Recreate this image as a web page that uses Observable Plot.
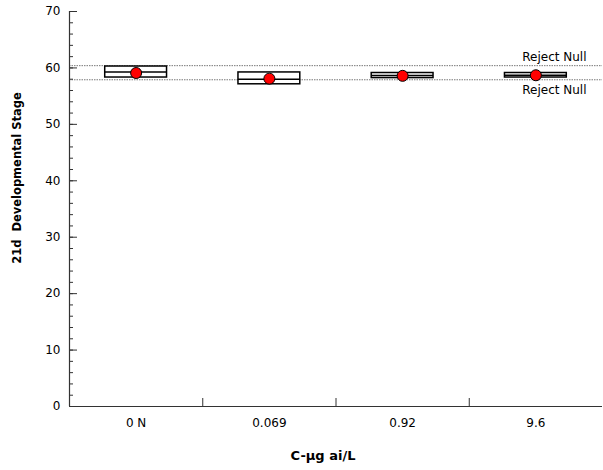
<!DOCTYPE html>
<html><head><meta charset="utf-8">
<script src="https://cdn.jsdelivr.net/npm/d3@7"></script>
<script src="https://cdn.jsdelivr.net/npm/@observablehq/plot@0.6"></script>
<style>
body{margin:0;background:#fff}
#chart svg{font-family:"DejaVu Sans",Verdana,sans-serif;display:block}
</style>
</head><body><div id="chart"></div>
<script>
const categories = ["0 N", "0.069", "0.92", "9.6"];
const q1Values = [58.3, 57.1, 58.2, 58.3];
const q3Values = [60.25, 59.2, 59.1, 59.1];
const medianValues = [59.3, 58.0, 58.65, 58.7];
const meanValues = [59.1, 58.1, 58.6, 58.7];
const rejectLines = [60.4, 57.9];
const rejectLabels = ["Reject Null", "Reject Null"];
const yTicks = [0, 10, 20, 30, 40, 50, 60, 70];
const yMinorTicks = [0, 2, 4, 6, 8, 10, 12, 14, 16, 18, 20, 22, 24, 26, 28, 30, 32, 34, 36, 38, 40, 42, 44, 46, 48, 50, 52, 54, 56, 58, 60, 62, 64, 66, 68, 70];
const xTitle = "C-µg ai/L";
const yTitle = "21d  Developmental Stage";

const rows = categories.map((c, i) => ({
  cat: c, pos: i + 0.5, q1: q1Values[i], q3: q3Values[i], med: medianValues[i], mean: meanValues[i]
}));
const boundaries = categories.map((_, i) => i).slice(1);
const halfBox = 0.232;
const refs = rejectLines.map((v, i) => ({v, label: rejectLabels[i], dy: i === 0 ? -9 : 10}));

const plot = Plot.plot({
  width: 603, height: 470,
  marginLeft: 69, marginRight: 1, marginTop: 11, marginBottom: 64,
  x: {domain: [0, categories.length], axis: null},
  y: {domain: [0, 70], axis: null},
  style: {fontSize: "12px", color: "#000"},
  marks: [
    Plot.ruleY(rejectLines, {stroke: "#777", strokeDasharray: "1.5,1", strokeWidth: 1}),
    Plot.rect(rows, {x1: d => d.pos - halfBox, x2: d => d.pos + halfBox, y1: "q1", y2: "q3", fill: "white", stroke: "black", strokeWidth: 1.5}),
    Plot.ruleY(rows, {y: "med", x1: d => d.pos - halfBox, x2: d => d.pos + halfBox, stroke: "black", strokeWidth: 1.5}),
    Plot.dot(rows, {x: "pos", y: "mean", r: 5.5, fill: "red", stroke: "black", strokeWidth: 1}),
    Plot.text(refs.slice(0,1), {x: categories.length, y: "v", text: "label", textAnchor: "end", dx: -16, dy: -9, fontSize: 12}),
    Plot.text(refs.slice(1), {x: categories.length, y: "v", text: "label", textAnchor: "end", dx: -16, dy: 10, fontSize: 12}),
    Plot.axisY({ticks: yMinorTicks, tickSize: -4, tickFormat: () => "", label: null, stroke: "#333"}),
    Plot.axisY({ticks: yTicks, tickSize: -8, tickFormat: () => "", label: null, stroke: "#333"}),
    Plot.axisY({ticks: yTicks, tickSize: 0, tickPadding: 9, label: null, fontSize: 12}),
    Plot.axisX({ticks: boundaries, tickSize: -8, tickFormat: () => "", label: null, stroke: "#333"}),
    Plot.axisX({ticks: rows.map(d => d.pos), tickSize: 0, tickPadding: 12, tickFormat: d => categories[Math.floor(d)], label: null, fontSize: 12}),
    Plot.ruleX([0], {stroke: "#333", strokeWidth: 1.2}),
    Plot.ruleY([0], {stroke: "#333", strokeWidth: 1.2})
  ]
});
document.getElementById("chart").append(plot);
const svg = d3.select(plot);
svg.append("text").attr("transform", "translate(21,178) rotate(-90)")
  .attr("text-anchor", "middle").attr("font-weight", "bold").attr("font-size", 11.5).text(yTitle);
svg.append("text").attr("x", 323).attr("y", 460)
  .attr("text-anchor", "middle").attr("font-weight", "bold").attr("font-size", 13).text(xTitle);
</script>
</body></html>
